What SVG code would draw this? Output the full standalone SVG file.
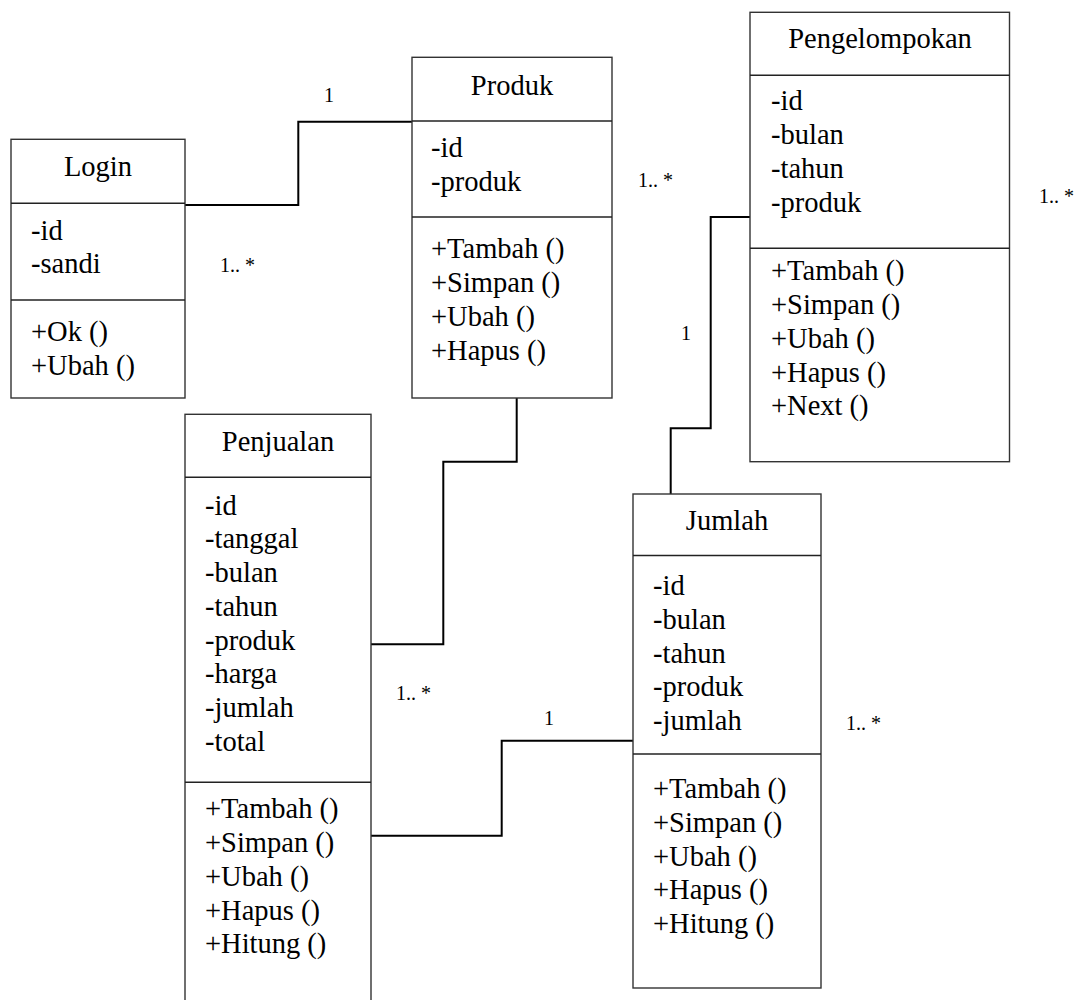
<svg xmlns="http://www.w3.org/2000/svg" width="1079" height="1000" viewBox="0 0 1079 1000">
<style>
.box{fill:#fff;stroke:#333;stroke-width:1.4}
.div{stroke:#222;stroke-width:1.6}
.t{font-family:"Liberation Serif","Times New Roman",serif;font-size:28.5px;fill:#000}
.c{text-anchor:middle}
.lbl{font-family:"Liberation Serif","Times New Roman",serif;font-size:20px;fill:#000}
.conn{fill:none;stroke:#000;stroke-width:2}
</style>
<rect width="1079" height="1000" fill="#fff"/>
<g id="connectors">
<path class="conn" d="M185,205 H298.3 V121.7 H412"/>
<path class="conn" d="M516.7,398 V461.7 H443.3 V644.3 H371"/>
<path class="conn" d="M750,217 H710.7 V428.3 H670.7 V494"/>
<path class="conn" d="M371,835.7 H501.7 V740.7 H633"/>
</g>
<g id="labels">
<text class="lbl" x="324" y="102">1</text>
<text class="lbl" x="220" y="272">1.. *</text>
<text class="lbl" x="638" y="187">1.. *</text>
<text class="lbl" x="1039" y="203">1.. *</text>
<text class="lbl" x="681" y="340">1</text>
<text class="lbl" x="396" y="700">1.. *</text>
<text class="lbl" x="544" y="725">1</text>
<text class="lbl" x="846" y="730">1.. *</text>
</g>
<g id="login">
<rect class="box" x="11" y="139.3" width="174" height="258.7"/>
<line class="div" x1="11" y1="203.3" x2="185" y2="203.3"/>
<line class="div" x1="11" y1="300" x2="185" y2="300"/>
<text class="t c" x="98" y="176">Login</text>
<text class="t" x="31" y="240">-id</text>
<text class="t" x="31" y="273">-sandi</text>
<text class="t" x="31" y="341">+Ok ()</text>
<text class="t" x="31" y="375">+Ubah ()</text>
</g>
<g id="produk">
<rect class="box" x="412" y="57.3" width="200" height="340.7"/>
<line class="div" x1="412" y1="121" x2="612" y2="121"/>
<line class="div" x1="412" y1="217" x2="612" y2="217"/>
<text class="t c" x="512" y="95">Produk</text>
<text class="t" x="431" y="157">-id</text>
<text class="t" x="431" y="191">-produk</text>
<text class="t" x="431" y="258">+Tambah ()</text>
<text class="t" x="431" y="292">+Simpan ()</text>
<text class="t" x="431" y="326">+Ubah ()</text>
<text class="t" x="431" y="360">+Hapus ()</text>
</g>
<g id="pengelompokan">
<rect class="box" x="750" y="12.3" width="259.5" height="449.4"/>
<line class="div" x1="750" y1="75.3" x2="1009.5" y2="75.3"/>
<line class="div" x1="750" y1="248.3" x2="1009.5" y2="248.3"/>
<text class="t c" x="880" y="48">Pengelompokan</text>
<text class="t" x="771" y="110">-id</text>
<text class="t" x="771" y="144">-bulan</text>
<text class="t" x="771" y="178">-tahun</text>
<text class="t" x="771" y="212">-produk</text>
<text class="t" x="771" y="280">+Tambah ()</text>
<text class="t" x="771" y="314">+Simpan ()</text>
<text class="t" x="771" y="348">+Ubah ()</text>
<text class="t" x="771" y="382">+Hapus ()</text>
<text class="t" x="771" y="415">+Next ()</text>
</g>
<g id="penjualan">
<rect class="box" x="185" y="414.3" width="186" height="600"/>
<line class="div" x1="185" y1="477.3" x2="371" y2="477.3"/>
<line class="div" x1="185" y1="782.3" x2="371" y2="782.3"/>
<text class="t c" x="278" y="451">Penjualan</text>
<text class="t" x="205" y="515">-id</text>
<text class="t" x="205" y="548">-tanggal</text>
<text class="t" x="205" y="582">-bulan</text>
<text class="t" x="205" y="616">-tahun</text>
<text class="t" x="205" y="650">-produk</text>
<text class="t" x="205" y="683">-harga</text>
<text class="t" x="205" y="717">-jumlah</text>
<text class="t" x="205" y="751">-total</text>
<text class="t" x="205" y="818">+Tambah ()</text>
<text class="t" x="205" y="852">+Simpan ()</text>
<text class="t" x="205" y="886">+Ubah ()</text>
<text class="t" x="205" y="920">+Hapus ()</text>
<text class="t" x="205" y="953">+Hitung ()</text>
</g>
<g id="jumlah">
<rect class="box" x="633" y="494" width="188" height="494"/>
<line class="div" x1="633" y1="555.5" x2="821" y2="555.5"/>
<line class="div" x1="633" y1="754" x2="821" y2="754"/>
<text class="t c" x="727" y="530">Jumlah</text>
<text class="t" x="653" y="595">-id</text>
<text class="t" x="653" y="629">-bulan</text>
<text class="t" x="653" y="663">-tahun</text>
<text class="t" x="653" y="696">-produk</text>
<text class="t" x="653" y="730">-jumlah</text>
<text class="t" x="653" y="798">+Tambah ()</text>
<text class="t" x="653" y="832">+Simpan ()</text>
<text class="t" x="653" y="866">+Ubah ()</text>
<text class="t" x="653" y="899">+Hapus ()</text>
<text class="t" x="653" y="933">+Hitung ()</text>
</g>
</svg>
